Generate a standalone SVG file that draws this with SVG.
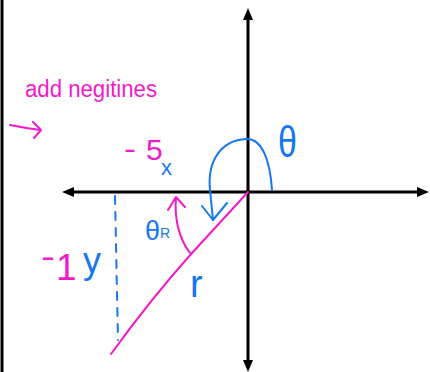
<svg xmlns="http://www.w3.org/2000/svg" width="430" height="372" viewBox="0 0 430 372">
<style>
.ax{stroke:#000;stroke-width:3;fill:none}
.hd{fill:#000}
.pk{stroke:#f21ac8;stroke-width:2;fill:none;stroke-linecap:round;stroke-linejoin:round}
.bl{stroke:#1677ee;stroke-width:2;fill:none;stroke-linecap:round;stroke-linejoin:round}
.tp{fill:#f21ac8;font-family:"Liberation Sans",sans-serif}
.tb{fill:#1677ee;font-family:"Liberation Sans",sans-serif}
</style>
<rect x="0" y="0" width="430" height="372" fill="#fff"/>
<line x1="2" y1="0" x2="2" y2="372" stroke="#000" stroke-width="3"/>
<g id="axes">
<line class="ax" x1="248" y1="14" x2="248" y2="366"/>
<line class="ax" x1="68" y1="192" x2="422" y2="192"/>
<polygon class="hd" points="248,8 243,20 253,20"/>
<polygon class="hd" points="248,372 243,360 253,360"/>
<polygon class="hd" points="62,192 74,187 74,197"/>
<polygon class="hd" points="429,192 417,187 417,197"/>
</g>
<g id="note">
<text class="tp" x="25" y="97" font-size="23" textLength="132" lengthAdjust="spacingAndGlyphs">add negitines</text>
<path class="pk" d="M10,125 Q25,128 40,130 M33,122 L41,130 L34,138"/>
</g>
<g id="theta">
<path class="bl" d="M272,190 C270,160 262,138 246,139 C222,140 207,160 210,190 L213,220"/>
<path class="bl" d="M202,206 L213,220 L227,203"/>
<text class="tb" x="278" y="129" font-size="34" transform="translate(0,36) scale(1,1.3) translate(0,-36)">θ</text>
</g>
<g id="r-line">
<path class="pk" d="M248,192 Q215,228 192,253 Q150,300 111,354"/>
<text class="tb" x="190" y="297" font-size="38">r</text>
</g>
<g id="theta-r">
<path class="pk" d="M190,253 C180,240 174,220 176,198"/>
<path class="pk" d="M168,210 L176,197 L185,207"/>
<text class="tb" x="145" y="240" font-size="27">θ</text>
<text class="tb" x="160" y="238" font-size="14">R</text>
</g>
<g id="x-label">
<text class="tp" x="124" y="158" font-size="28" textLength="12" lengthAdjust="spacingAndGlyphs">-</text>
<text class="tp" x="146" y="160" font-size="30">5</text>
<text class="tb" x="161" y="175" font-size="22">x</text>
</g>
<g id="y-label">
<line class="bl" x1="115" y1="196" x2="118" y2="340" stroke-dasharray="8,8"/>
<text class="tp" x="41" y="267" font-size="32" textLength="14" lengthAdjust="spacingAndGlyphs">-</text>
<text class="tp" x="56" y="280" font-size="37">1</text>
<text class="tb" x="83" y="273" font-size="36">y</text>
</g>
</svg>
